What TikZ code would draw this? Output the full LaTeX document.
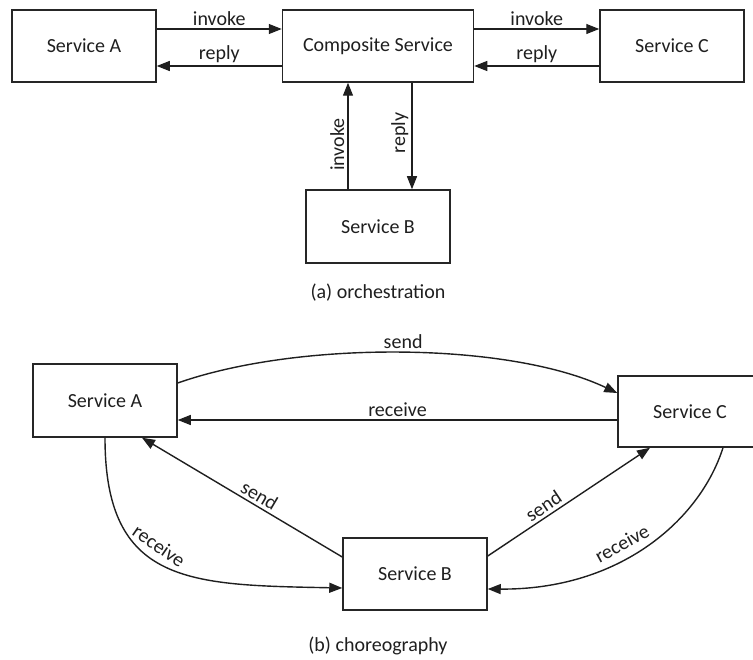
\documentclass[tikz,border=0pt]{standalone}
\usepackage{fontspec}
\setmainfont{Carlito}
\usetikzlibrary{arrows.meta,calc}
\begin{document}
\begin{tikzpicture}[x=1pt,y=-1pt,
  box/.style={draw=black!85, line width=1.5pt, minimum width=144pt, minimum height=72pt, inner sep=0pt, font=\fontsize{20}{24}\selectfont, text=black!88},
  arr/.style={draw=black!88, line width=1.4pt, -{Triangle[length=13pt,width=10pt]}},
  lab/.style={font=\fontsize{20}{24}\selectfont, text=black!88, inner sep=3pt},
]
\useasboundingbox (0,0) rectangle (753,660);
\clip (0,0) rectangle (753,660);

% (a) orchestration
\node[box] (A1) at (84,46) {Service A};
\node[box, minimum width=191pt] (CS) at (378,46) {Composite Service};
\node[box] (C1) at (672,46) {Service C};
\node[box, minimum height=73pt] (B1) at (378,226.5) {Service B};

\draw[arr] ([yshift=17pt]A1.east) -- node[lab,above]{invoke} ([yshift=17pt]CS.west);
\draw[arr] ([yshift=-20pt]CS.west) -- node[lab,above]{reply} ([yshift=-20pt]A1.east);
\draw[arr] ([yshift=17pt]CS.east) -- node[lab,above]{invoke} ([yshift=17pt]C1.west);
\draw[arr] ([yshift=-20pt]C1.west) -- node[lab,above]{reply} ([yshift=-20pt]CS.east);

\draw[arr] ([xshift=-30pt]B1.north) -- node[lab,pos=0.42,rotate=90,anchor=south]{invoke} ([xshift=-30pt]B1.north |- CS.south);
\draw[arr] ([xshift=34pt]B1.north |- CS.south) -- node[lab,pos=0.47,rotate=90,anchor=south]{reply} ([xshift=34pt]B1.north);

\node[lab] (capa) at (378,293) {(a) orchestration};

% (b) choreography
\node[box, minimum height=73pt] (A2) at (105,400.5) {Service A};
\node[box, minimum height=71pt] (C2) at (690,411.5) {Service C};
\node[box] (B2) at (415,574) {Service B};

\draw[arr] ([yshift=17.5pt]A2.east) .. controls (300,340) and (510,342) .. node[lab,above,pos=0.5]{send} ([yshift=18.5pt]C2.west);
\draw[arr] ([yshift=-8.5pt]C2.west) -- node[lab,above]{receive} ([yshift=-19.5pt]A2.east);
\draw[arr] ([yshift=17pt]B2.west) -- node[lab,above,sloped,pos=0.44]{send} ([xshift=37pt]A2.south);
\draw[arr] (A2.south) .. controls (105,585) and (190,585) .. node[lab,above=4pt,sloped,pos=0.43]{receive} ([yshift=-14pt]B2.west);
\draw[arr] ([yshift=18pt]B2.east) -- node[lab,above,sloped,pos=0.38]{send} ([xshift=-40pt]C2.south);
\draw[arr] ([xshift=33pt]C2.south) .. controls (700,520) and (620,590) .. node[lab,above=4pt,sloped,pos=0.57]{receive} ([yshift=-15pt]B2.east);

\node[lab] (capb) at (378,646) {(b) choreography};
\end{tikzpicture}
\end{document}
